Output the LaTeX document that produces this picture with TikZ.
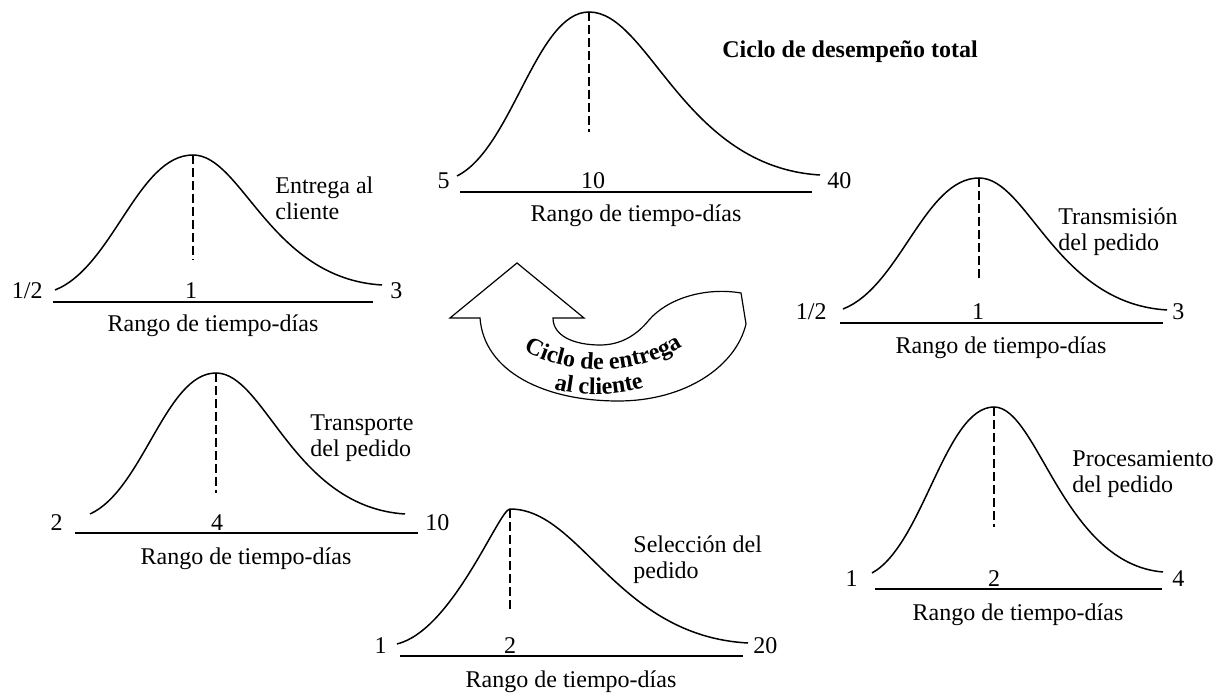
\documentclass[tikz,border=0pt]{standalone}
\usepackage{fontspec}
\setmainfont{Liberation Serif}
\usetikzlibrary{decorations.text}

\newcommand{\bellcurve}[6]{%
  \draw[bell] (#1,#2) .. controls ({#1+0.42*(#3-#1)},{#2+0.17*(#4-#2)}) and ({#1+0.6*(#3-#1)},#4) .. (#3,#4)
    .. controls ({#3+0.26*(#5-#3)},#4) and ({#3+0.41*(#5-#3)},{#4+0.95*(#6-#4)}) .. (#5,#6);}

\begin{document}
\begin{tikzpicture}[x=0.5pt, y=-0.5pt, font=\fontsize{12}{13}\selectfont,
    bell/.style={line width=0.75pt},
    rangeline/.style={line width=0.75pt},
    peakline/.style={line width=0.6pt, dash pattern=on 4.5pt off 2pt},
    numlab/.style={anchor=base, inner sep=0pt},
    rangelab/.style={anchor=base, inner sep=0pt},
    steplab/.style={anchor=west, align=left, inner sep=0pt},
    band/.style={draw, fill=white, line width=0.6pt, line join=miter}]
    \useasboundingbox (0,0) rectangle (1219,694);

    \bellcurve{457}{176}{589}{12}{820}{175}
    \draw[rangeline] (460,192) -- (812,192);
    \draw[peakline] (589,12) -- (589,132);
    \node[numlab, anchor=base east] (tot-min) at (450,189) {5};
    \node[numlab] (tot-mode) at (593,189) {10};
    \node[numlab, anchor=base west] (tot-max) at (827,189) {40};
    \node[rangelab] (tot-range) at (636,222) {Rango de tiempo-días};
    \node[anchor=base, inner sep=0pt, font=\fontsize{12}{13}\selectfont\bfseries] (tot-title) at (850,58) {Ciclo de desempeño total};

    \bellcurve{55}{290}{193}{155}{382}{285}
    \draw[rangeline] (53,302) -- (373,302);
    \draw[peakline] (193,155) -- (193,260);
    \node[numlab, anchor=base east] (ent-min) at (43,299) {1/2};
    \node[numlab] (ent-mode) at (191,299) {1};
    \node[numlab, anchor=base west] (ent-max) at (390,299) {3};
    \node[rangelab] (ent-range) at (213,332) {Rango de tiempo-días};
    \node[steplab] (ent-name) at (275,198) {Entrega al\\cliente};

    \bellcurve{843}{309}{979}{178}{1167}{310}
    \draw[rangeline] (840,323) -- (1163,323);
    \draw[peakline] (979,178) -- (979,278);
    \node[numlab, anchor=base east] (tra-min) at (827,320) {1/2};
    \node[numlab] (tra-mode) at (978,320) {1};
    \node[numlab, anchor=base west] (tra-max) at (1172,320) {3};
    \node[rangelab] (tra-range) at (1001,354) {Rango de tiempo-días};
    \node[steplab] (tra-name) at (1058,232) {Transmisión\\del pedido};

    \bellcurve{90}{514}{216}{373}{405}{514}
    \draw[rangeline] (75,533) -- (418,533);
    \draw[peakline] (216,373) -- (216,493);
    \node[numlab, anchor=base east] (trp-min) at (63,530) {2};
    \node[numlab] (trp-mode) at (217,530) {4};
    \node[numlab, anchor=base west] (trp-max) at (425,530) {10};
    \node[rangelab] (trp-range) at (246,564) {Rango de tiempo-días};
    \node[steplab] (trp-name) at (310,438) {Transporte\\del pedido};

    \draw[bell] (397,644) .. controls (453,630) and (499,509) .. (510,509)
      .. controls (581,509) and (617,636) .. (748,643);
    \draw[rangeline] (400,656) -- (743,656);
    \draw[peakline] (510,509) -- (510,613);
    \node[numlab, anchor=base east] (sel-min) at (387,653) {1};
    \node[numlab] (sel-mode) at (510,653) {2};
    \node[numlab, anchor=base west] (sel-max) at (753,653) {20};
    \node[rangelab] (sel-range) at (571,687) {Rango de tiempo-días};
    \node[steplab] (sel-name) at (633,560) {Selección del\\pedido};

    \bellcurve{872}{573}{994}{407}{1163}{572}
    \draw[rangeline] (875,589) -- (1162,589);
    \draw[peakline] (994,407) -- (994,527);
    \node[numlab, anchor=base east] (pro-min) at (858,586) {1};
    \node[numlab] (pro-mode) at (994,586) {2};
    \node[numlab, anchor=base west] (pro-max) at (1172,586) {4};
    \node[rangelab] (pro-range) at (1018,620) {Rango de tiempo-días};
    \node[steplab] (pro-name) at (1072,474) {Procesamiento\\del pedido};

    \draw[band] (553,318) -- (584,318) -- (517,263) -- (450,318) -- (480,318)
      .. controls (484,372) and (545,401) .. (618,401)
      .. controls (686,401) and (736,366) .. (746,324)
      -- (741,293)
      .. controls (706,287) and (668,298) .. (649,320)
      .. controls (636,336) and (620,345) .. (600,345)
      .. controls (574,345) and (553,336) .. (553,318) -- cycle;
    \path[decorate, decoration={text along path, text align=center,
      text={|\fontsize{12}{13}\selectfont\bfseries|Ciclo de entrega}}]
      (512,343) .. controls (558,378) and (642,380) .. (694,338);
    \path[decorate, decoration={text along path, text align=center,
      text={|\fontsize{12}{13}\selectfont\bfseries|al cliente}}]
      (548,387) .. controls (575,397) and (622,397) .. (650,385);
\end{tikzpicture}
\end{document}
